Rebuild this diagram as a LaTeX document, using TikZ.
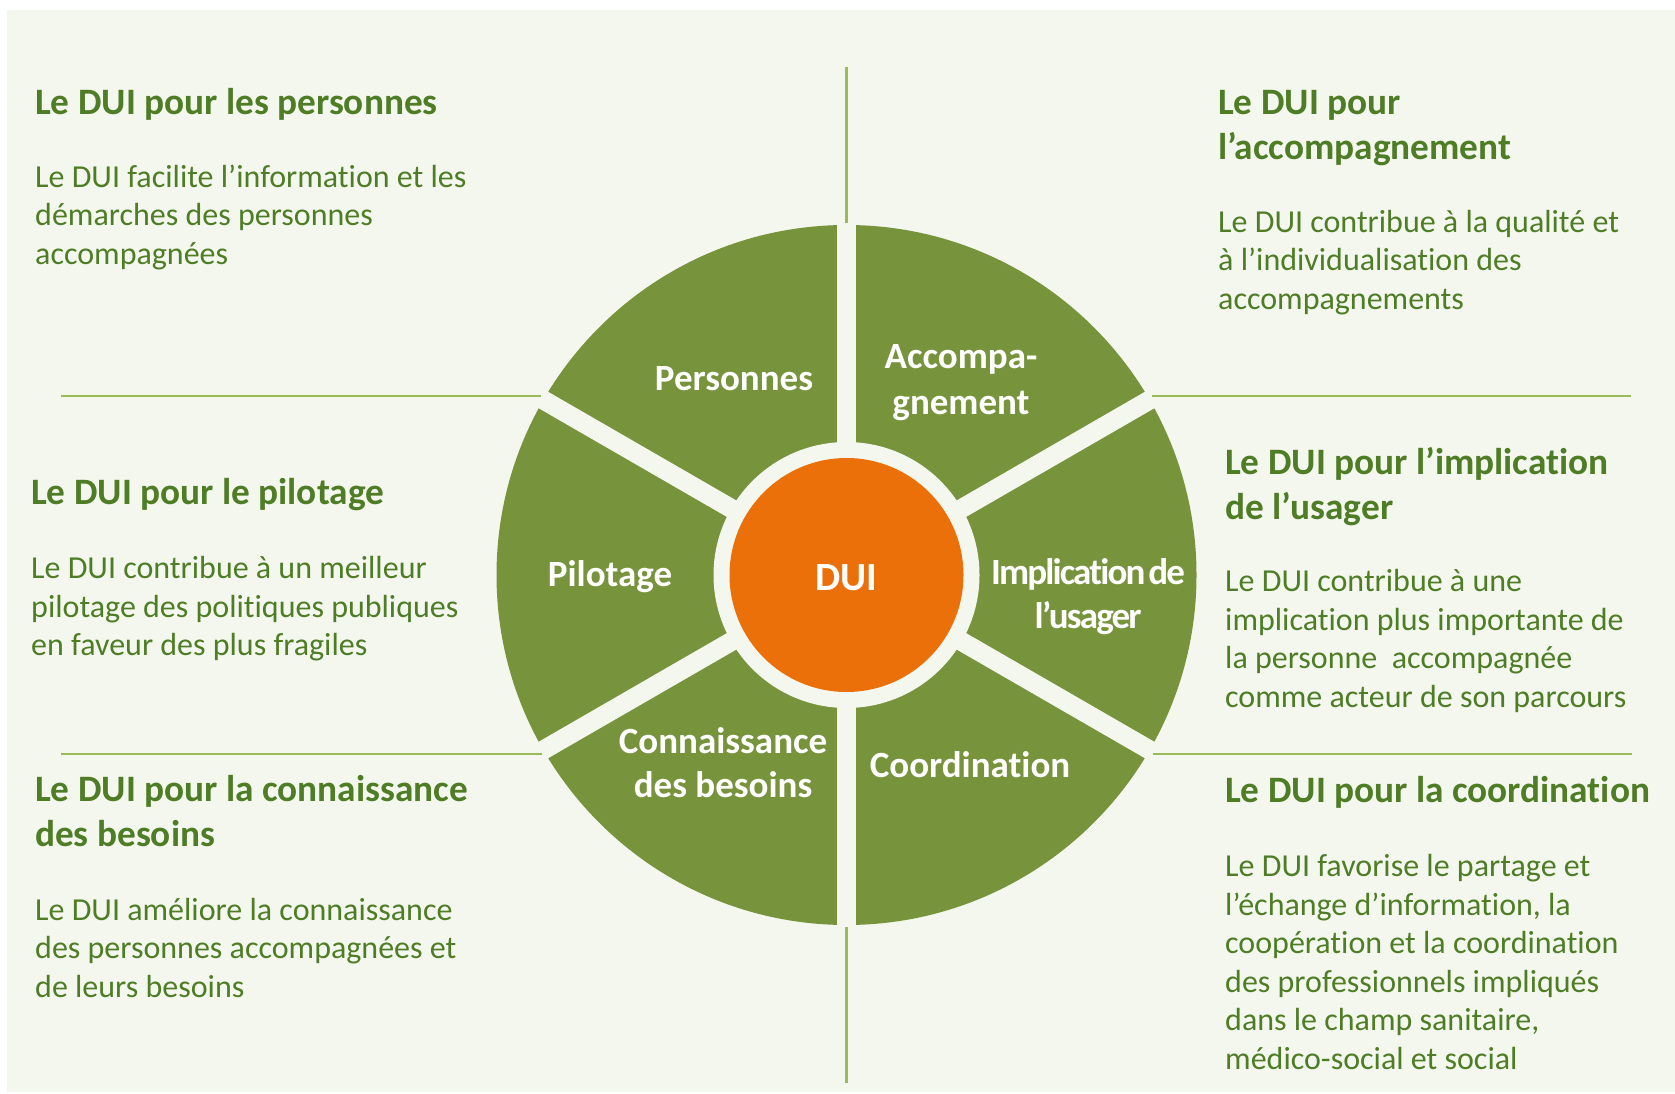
\documentclass[tikz,border=0pt]{standalone}
\usepackage{fontspec}
\setmainfont{Carlito}[Ligatures=NoCommon]
\definecolor{bgc}{HTML}{F4F7EE}
\definecolor{wheelgreen}{HTML}{77933C}
\definecolor{duiorange}{HTML}{EC700A}
\definecolor{txtgreen}{HTML}{4E7D26}
\definecolor{sepgreen}{HTML}{9BBB59}
\newcommand{\mypara}[1]{\parbox[t]{640pt}{\raggedright #1}}
\tikzset{
  head/.style={anchor=base west, inner sep=0pt, text=txtgreen, font=\fontsize{37.3}{45}\selectfont\bfseries},
  body/.style={anchor=base west, inner sep=0pt, text=txtgreen, font=\fontsize{32}{38.5}\selectfont},
  wlabel/.style={inner sep=0pt, text=white, align=center, font=\fontsize{37}{46}\selectfont\bfseries},
  sepline/.style={draw=sepgreen, line width=2.5pt},
  gapline/.style={draw=bgc, line width=19pt}
}
\begin{document}
\begin{tikzpicture}[x=1pt,y=-1pt]
\useasboundingbox (0,0) rectangle (1675,1094);
\fill[white] (0,0) rectangle (1675,1094);
\fill[bgc] (7,10) rectangle (1675,1092);

% wheel
\coordinate (c) at (846.5,575);
\fill[wheelgreen] (c) circle[radius=350];
\draw[gapline] (c) ++(0,-360) -- ++(0,720);
\draw[gapline] (c) ++(-311.8,-180) -- ++(623.6,360);
\draw[gapline] (c) ++(-311.8,180) -- ++(623.6,-360);
\fill[bgc] (c) circle[radius=133];
\node[circle, fill=duiorange, minimum size=234pt, inner sep=0pt] (dui) at (c) {};
\node[inner sep=0pt, text=white, font=\fontsize{40}{48}\selectfont\bfseries] (duitext) at (846.5,578) {DUI};

% separator lines
\draw[sepline] (61,396) -- (541,396);
\draw[sepline] (61,754) -- (542,754);
\draw[sepline] (1152,396) -- (1631,396);
\draw[sepline] (1153,754) -- (1632,754);
\draw[sepline] (846.5,67) -- (846.5,223);
\draw[sepline] (846.5,927) -- (846.5,1083);

% wheel labels
\node[wlabel] (personnes) at (734,379) {Personnes};
\node[wlabel] (accomp) at (961,383) {Accompa-\\gnement};
\node[wlabel] (pilotage) at (610,577) {Pilotage};
\node[wlabel, font=\fontsize{37}{44}\selectfont\bfseries\addfontfeatures{LetterSpace=-5}] (implication) at (1088,597) {Implication\hspace{3pt}de\\l’usager};
\node[wlabel, font=\fontsize{37}{44}\selectfont\bfseries] (connaissance) at (723,763) {Connaissance\\des besoins};
\node[wlabel] (coordination) at (970,765) {Coordination};

% text blocks
\node[head] (h1) at (35,115) {Le DUI pour les personnes};
\node[body] (b1) at (35,187.5) {\mypara{Le DUI facilite l’information et les\\démarches des personnes\\accompagnées}};

\node[head] (h2) at (1218,115) {\mypara{Le DUI pour\\l’accompagnement}};
\node[body] (b2) at (1218,232.5) {\mypara{Le DUI contribue à la qualité et\\à l’individualisation des\\accompagnements}};

\node[head] (h3) at (31,504) {Le DUI pour le pilotage};
\node[body] (b3) at (31,578.5) {\mypara{Le DUI contribue à un meilleur\\pilotage des politiques publiques\\en faveur des plus fragiles}};

\node[head] (h4) at (1225,474) {\mypara{Le DUI pour l’implication\\de l’usager}};
\node[body] (b4) at (1225,591.5) {\mypara{Le DUI contribue à une\\implication plus importante de\\la personne\ \ accompagnée\\comme acteur de son parcours}};

\node[head] (h5) at (35,801) {\mypara{Le DUI pour la connaissance\\des besoins}};
\node[body] (b5) at (35,920) {\mypara{Le DUI améliore la connaissance\\des personnes accompagnées et\\de leurs besoins}};

\node[head] (h6) at (1225,802) {Le DUI pour la coordination};
\node[body] (b6) at (1225,876.5) {\mypara{Le DUI favorise le partage et\\l’échange d’information, la\\coopération et la coordination\\des professionnels impliqués\\dans le champ sanitaire,\\médico-social et social}};
\end{tikzpicture}
\end{document}
